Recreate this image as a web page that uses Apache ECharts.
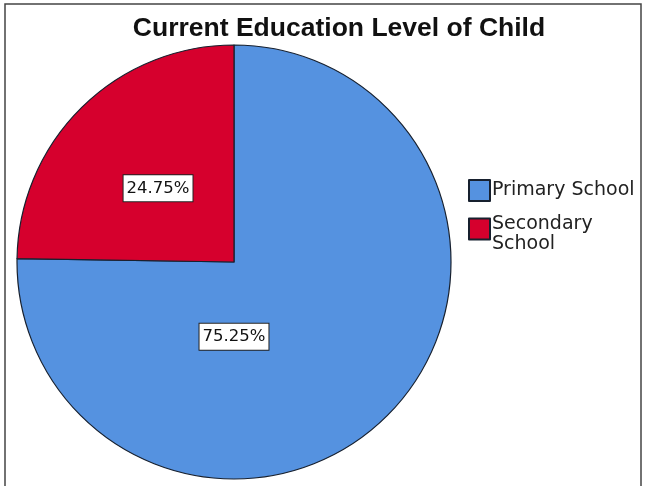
<!DOCTYPE html>
<html>
<head>
<meta charset="utf-8">
<script src="https://cdn.jsdelivr.net/npm/echarts@6/dist/echarts.min.js"></script>
<style>
  html, body { margin: 0; padding: 0; background: #fff; }
  #chart { width: 646px; height: 486px; }
</style>
</head>
<body>
<div id="chart"></div>
<script>
  // data
  const categories = ['Primary School', 'Secondary School'];
  const percents   = [75.25, 24.75];
  const colors     = ['#5592E0', '#D6002D'];

  // label centres as offsets from pie centre, in units of radius
  const labelSpots = [[0.0, 0.345], [-0.35, -0.34]];

  const CX = 234, CY = 262, R = 217;

  const chart = echarts.init(document.getElementById('chart'));

  const opt = {
    backgroundColor: '#fff',
    animation: false,
    title: {
      text: 'Current Education Level of Child',
      left: 334, top: 10, textAlign: 'center',
      textStyle: { fontFamily: 'Liberation Sans', fontWeight: 'bold', fontSize: 26.5, color: '#111' }
    },
    legend: {
      orient: 'vertical',
      left: 468, top: 179, padding: 0,
      itemWidth: 21, itemHeight: 21, itemGap: 13,
      icon: 'rect',
      data: categories,
      // wrapped second entry sits a bit low against its swatch, as in the reference
      formatter: (n) => n === 'Secondary School'
        ? '{s1|Secondary}\n{s2|School}'
        : '{p|' + n + '}',
      textStyle: {
        fontFamily: 'DejaVu Sans', fontSize: 19, color: '#222', padding: [0, 0, 0, -3],
        rich: {
          p:  { fontFamily: 'DejaVu Sans', fontSize: 19, color: '#222', lineHeight: 20 },
          s1: { fontFamily: 'DejaVu Sans', fontSize: 19, color: '#222', lineHeight: 30, verticalAlign: 'bottom' },
          s2: { fontFamily: 'DejaVu Sans', fontSize: 19, color: '#222', lineHeight: 20 }
        }
      }
    },
    graphic: [{
      type: 'rect',
      shape: { x: 5, y: 4, width: 636, height: 500 },
      style: { fill: 'none', stroke: '#444', lineWidth: 1.5 },
      silent: true
    }],
    series: [{
      type: 'pie',
      center: [CX, CY],
      radius: R,
      startAngle: 90,
      clockwise: true,
      labelLine: { show: false },
      itemStyle: { borderColor: '#17202e', borderWidth: 1.2 },
      label: {
        position: 'inside',
        formatter: (p) => p.value.toFixed(2) + '%',
        fontFamily: 'DejaVu Sans', fontSize: 16.5, color: '#111',
        backgroundColor: '#fff', borderColor: '#222', borderWidth: 1,
        padding: [5, 3, 4, 3]
      },
      labelLayout: (p) => {
        const s = labelSpots[p.dataIndex];
        return { x: CX + s[0] * R, y: CY + s[1] * R };
      },
      data: categories.map((c, i) => ({
        name: c, value: percents[i], itemStyle: { color: colors[i] }
      }))
    }]
  };
  chart.setOption(opt);
</script>
</body>
</html>
